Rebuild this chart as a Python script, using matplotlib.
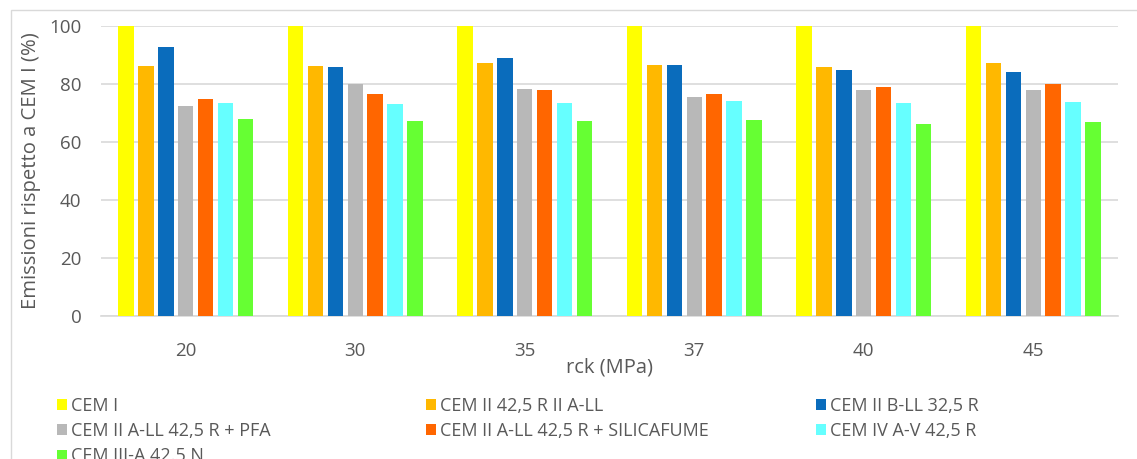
import matplotlib
matplotlib.use("Agg")
import matplotlib.pyplot as plt
import numpy as np
from matplotlib.patches import Rectangle, Patch

plt.rcParams['font.family'] = ['Open Sans', 'DejaVu Sans']

categories = ["20", "30", "35", "37", "40", "45"]
series_names = [
    "CEM I",
    "CEM II 42,5 R II A-LL",
    "CEM II B-LL 32,5 R",
    "CEM II A-LL 42,5 R + PFA",
    "CEM II A-LL 42,5 R + SILICAFUME",
    "CEM IV A-V 42,5 R",
    "CEM III-A 42.5 N",
]
cem_i = [100, 100, 100, 100, 100, 100]
cem_ii_a_ll = [86.2, 86.1, 87.1, 86.6, 85.8, 87.1]
cem_ii_b_ll = [92.5, 85.7, 88.8, 86.6, 84.6, 84.1]
cem_ii_pfa = [72.5, 79.8, 78.1, 75.5, 78.0, 78.0]
cem_ii_sf = [74.8, 76.4, 78.0, 76.5, 78.9, 79.8]
cem_iv = [73.4, 72.9, 73.5, 74.1, 73.4, 73.7]
cem_iii = [67.9, 67.0, 67.0, 67.5, 66.3, 66.9]
series_values = [cem_i, cem_ii_a_ll, cem_ii_b_ll, cem_ii_pfa, cem_ii_sf, cem_iv, cem_iii]
colors = ["#FFFF00", "#FFB800", "#0A6CBC", "#B8B8B8", "#FF6600", "#66FFFF", "#66FF33"]
yticks = [0, 20, 40, 60, 80, 100]

W, H = 1137, 459
fig = plt.figure(figsize=(W / 100, H / 100), dpi=100)
ax = fig.add_axes([101 / W, 1 - 316 / H, (1118 - 101) / W, (316 - 25.7) / H])

x = np.arange(len(categories))
pitch = 0.1173
bw = 0.091
n = len(series_values)
for i, (vals, c) in enumerate(zip(series_values, colors)):
    off = (i - (n - 1) / 2) * pitch
    ax.bar(x + off, vals, width=bw, color=c, zorder=3, linewidth=0)

ax.set_xlim(-0.5, len(categories) - 0.5)
ax.set_ylim(0, 100)
ax.set_yticks(yticks)
ax.set_xticks(x)
ax.set_xticklabels(categories)
ax.yaxis.grid(True, color="#D9D9D9", linewidth=1.2, zorder=0)
ax.xaxis.grid(False)
for s in ["top", "right", "left"]:
    ax.spines[s].set_visible(False)
ax.spines["bottom"].set_color("#D9D9D9")
ax.spines["bottom"].set_linewidth(1.2)
ax.tick_params(axis="both", length=0, labelsize=13.5, colors="#595959")
ax.tick_params(axis="x", pad=19)
ax.tick_params(axis="y", pad=14)
ax.set_xlabel("rck (MPa)", fontsize=14.5, color="#595959", labelpad=-2)
ax.set_ylabel("Emissioni rispetto a CEM I (%)", fontsize=14.6, color="#595959", labelpad=6)

# frame (bottom and right edges lie outside the picture, as in the reference)
fig.patches.append(Rectangle((10.5 / W, -10 / H), (W + 20) / W, (449 + 10) / H,
                             transform=fig.transFigure, fill=False,
                             edgecolor="#D9D9D9", linewidth=1.0))

handles = [Patch(facecolor=c, edgecolor="none") for c in colors]
col_groups = [[0, 3, 6], [1, 4], [2, 5]]
col_x = [57, 426, 816]
for grp, cx in zip(col_groups, col_x):
    leg = fig.legend([handles[k] for k in grp], [series_names[k] for k in grp],
                     loc="upper left", bbox_to_anchor=(cx / W, 1 - 397 / H),
                     frameon=False, fontsize=13, handlelength=0.55, handleheight=0.55,
                     handletextpad=0.2, labelspacing=0.4, borderpad=0, borderaxespad=0,
                     labelcolor="#595959")

fig.savefig("out.png", dpi=100)
